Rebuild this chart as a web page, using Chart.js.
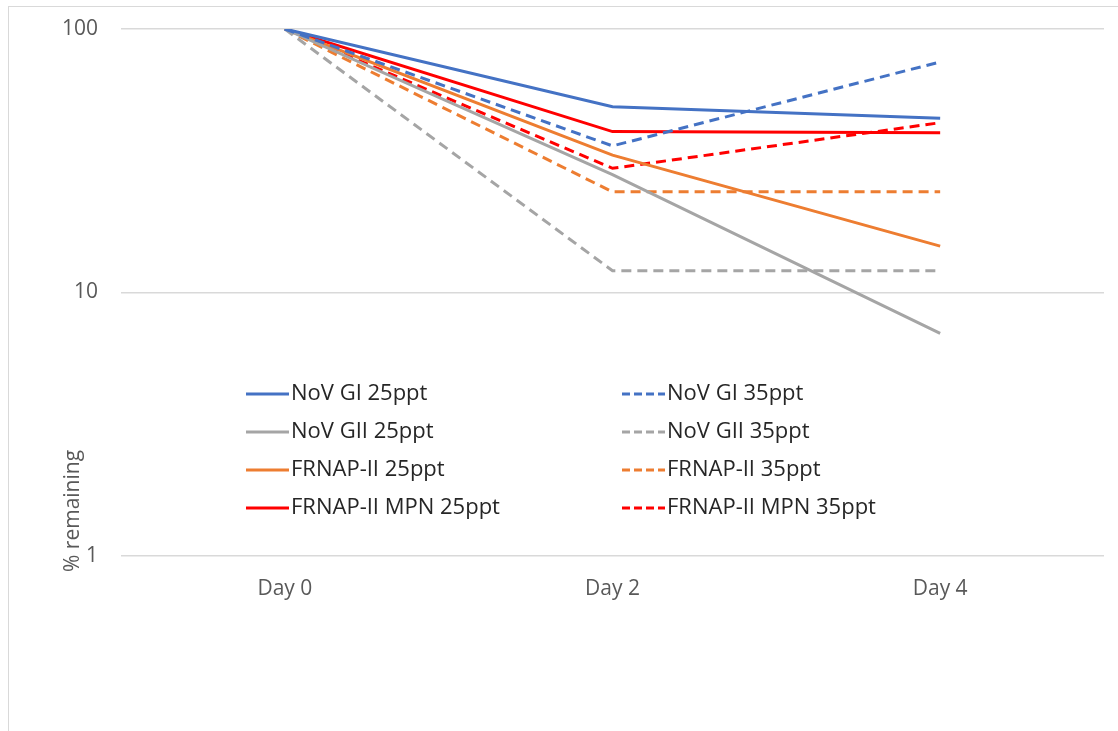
<!DOCTYPE html>
<html>
<head>
<meta charset="utf-8">
<script src="https://cdn.jsdelivr.net/npm/chart.js@4/dist/chart.umd.min.js"></script>
<style>
  html, body { margin: 0; padding: 0; background: #fff; }
  #wrap { position: relative; width: 1118px; height: 731px; }
  #frame {
    position: absolute; left: 8px; top: 6px; right: 0; bottom: 0;
    border-left: 1.5px solid #d9d9d9; border-top: 1.5px solid #d9d9d9;
  }
  canvas { position: absolute; left: 0; top: 0; }
</style>
</head>
<body>
<div id="wrap">
  <div id="frame"></div>
  <canvas id="chart" width="1118" height="731"></canvas>
</div>
<script>
// values (% remaining, log axis)
const days = ['Day 0', 'Day 2', 'Day 4'];
const yTicks = [1, 10, 100];
const yTitle = '% remaining';

const novGI25 = [100, 50.7, 45.8];
const novGI35 = [100, 36, 75];
const novGII25 = [100, 28, 7];
const novGII35 = [100, 12.1, 12.1];
const frnap25 = [100, 33.2, 15];
const frnap35 = [100, 24.1, 24.1];
const frnapMpn25 = [100, 40.8, 40.4];
const frnapMpn35 = [100, 29.6, 44.1];

const FONT = 'Open Sans';
const DASH = [10, 6];

const line = (label, data, color, dashed) => ({
  label, data,
  borderColor: color,
  backgroundColor: color,
  borderWidth: 3,
  borderDash: dashed ? DASH : [],
  pointRadius: 0,
  tension: 0,
  fill: false
});

// two-column legend drawn inside the plot, like the original
const legendInside = {
  id: 'legendInside',
  afterDraw(chart) {
    const ctx = chart.ctx;
    const cols = [246, 622];
    ctx.save();
    ctx.font = `22px "${FONT}"`;
    ctx.textBaseline = 'middle';
    ctx.textAlign = 'left';
    chart.data.datasets.forEach((ds, i) => {
      const x = cols[i % 2];
      const y = 394 + 38 * Math.floor(i / 2);
      ctx.strokeStyle = ds.borderColor;
      ctx.lineWidth = 3;
      ctx.setLineDash(ds.borderDash.length ? [8, 4] : []);
      ctx.beginPath();
      ctx.moveTo(x, y);
      ctx.lineTo(x + 43, y);
      ctx.stroke();
      ctx.setLineDash([]);
      ctx.fillStyle = '#262626';
      ctx.fillText(ds.label, x + 45, y);
    });
    // rotated axis title, anchored near the bottom of the axis
    ctx.translate(73, 572);
    ctx.rotate(-Math.PI / 2);
    ctx.font = `21px "${FONT}"`;
    ctx.fillStyle = '#595959';
    ctx.fillText(yTitle, 0, 0);
    ctx.restore();
  }
};

new Chart(document.getElementById('chart'), {
  type: 'line',
  data: {
    labels: days,
    datasets: [
      line('NoV GI 25ppt', novGI25, '#4472C4', false),
      line('NoV GI 35ppt', novGI35, '#4472C4', true),
      line('NoV GII 25ppt', novGII25, '#A5A5A5', false),
      line('NoV GII 35ppt', novGII35, '#A5A5A5', true),
      line('FRNAP-II 25ppt', frnap25, '#ED7D31', false),
      line('FRNAP-II 35ppt', frnap35, '#ED7D31', true),
      line('FRNAP-II MPN 25ppt', frnapMpn25, '#FF0000', false),
      line('FRNAP-II MPN 35ppt', frnapMpn35, '#FF0000', true)
    ]
  },
  options: {
    responsive: false,
    animation: false,
    layout: { padding: { left: 0, top: 29, right: 14, bottom: 0 } },
    plugins: {
      legend: { display: false },
      tooltip: { enabled: false }
    },
    scales: {
      x: {
        offset: true,
        grid: { display: false, drawTicks: false },
        border: { display: false },
        afterFit: s => { s.height = 175; },
        ticks: {
          color: '#595959',
          font: { family: FONT, size: 21 },
          padding: 20,
          maxRotation: 0
        }
      },
      y: {
        type: 'logarithmic',
        min: 1,
        max: 100,
        afterBuildTicks: s => { s.ticks = yTicks.map(v => ({ value: v })); },
        afterFit: s => {
          s.width = 121;
          // tick padding would otherwise push the plot top down
          s.paddingTop = 0;
          s.paddingBottom = 0;
        },
        grid: { color: '#d9d9d9', lineWidth: 1.5, drawTicks: false },
        border: { display: false },
        ticks: {
          color: '#595959',
          font: { family: FONT, size: 21 },
          padding: 23,
          callback: v => String(v)
        }
      }
    }
  },
  plugins: [legendInside]
});
</script>
</body>
</html>
